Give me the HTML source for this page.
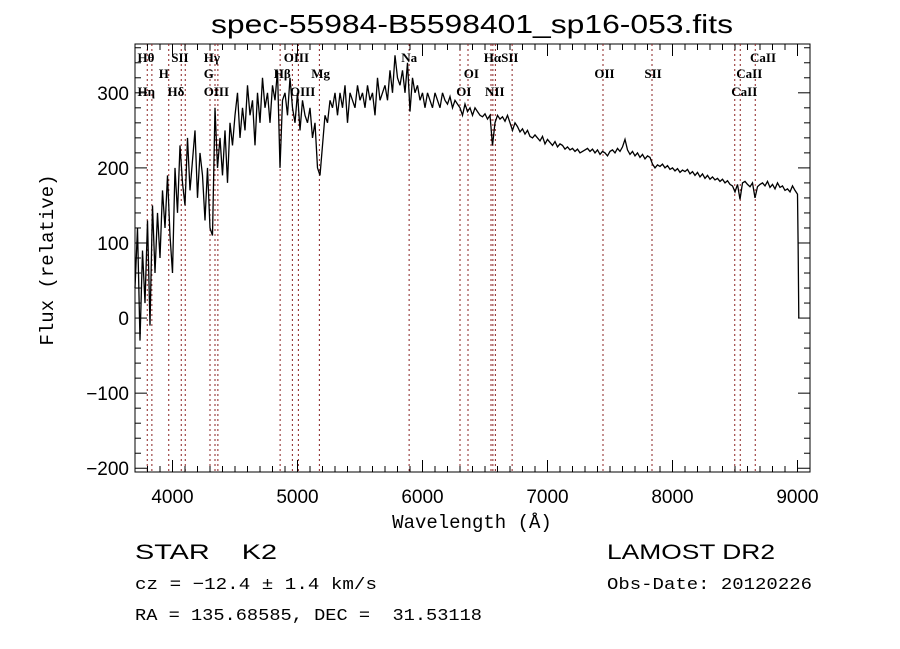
<!DOCTYPE html>
<html><head><meta charset="utf-8"><style>
body{margin:0;background:#fff;}
svg{display:block;font-family:"Liberation Sans",sans-serif;}
</style></head><body>
<svg id="c" width="900" height="649" viewBox="0 0 900 649">
<text x="211" y="33" font-size="26" textLength="522" lengthAdjust="spacingAndGlyphs">spec-55984-B5598401_sp16-053.fits</text>
<rect x="135" y="44" width="675" height="428" fill="none" stroke="#000" stroke-width="1"/>
<text x="472" y="528" font-size="19" font-family="Liberation Mono, monospace" text-anchor="middle">Wavelength (Å)</text>
<text transform="translate(53,260) rotate(-90)" font-size="19" font-family="Liberation Mono, monospace" text-anchor="middle">Flux (relative)</text>
<text x="135" y="559" font-size="21" textLength="142" lengthAdjust="spacingAndGlyphs">STAR&#160;&#160;&#160;&#160;K2</text>
<text x="607" y="559" font-size="21" textLength="168" lengthAdjust="spacingAndGlyphs">LAMOST DR2</text>
<text x="135" y="589" font-size="17" font-family="Liberation Mono, monospace" textLength="242" lengthAdjust="spacingAndGlyphs">cz = −12.4 ± 1.4 km/s</text>
<text x="607" y="589" font-size="17" font-family="Liberation Mono, monospace" textLength="205" lengthAdjust="spacingAndGlyphs">Obs-Date: 20120226</text>
<text x="135" y="620" font-size="17" font-family="Liberation Mono, monospace" textLength="347" lengthAdjust="spacingAndGlyphs">RA = 135.68585, DEC =&#160;&#160;31.53118</text>
<g id="lines"></g><g id="spec"></g><g id="axes"></g><g id="labels"></g>
</svg>
<script>
const xTicks=[4000,5000,6000,7000,8000,9000];
const yTicks=[-200,-100,0,100,200,300];
const lineWl=[3798,3835,3970,4070,4102,4300,4340,4363,4861,4959,5007,5175,5893,6300,6364,6548,6563,6583,6717,7444,7836,8498,8542,8662];
const labelText=["Hθ","SII","Hγ","OIII","Na","HαSII","CaII","H","G","Hβ","Mg","OI","OII","SII","CaII","Hη","Hδ","OIII","OIII","OI","NII","CaII"];
const labelWl=[3720,3990,4250,4890,5830,6490,8620,3890,4250,4810,5110,6330,7375,7775,8510,3720,3960,4250,4940,6270,6500,8470];
const labelRow=[0,0,0,0,0,0,0,1,1,1,1,1,1,1,1,2,2,2,2,2,2,2];
const fluxStart=3700, fluxStep=20;
const flux=[40,120,-30,90,20,130,-10,150,60,140,80,
170,120,190,110,60,200,140,230,180,150,
240,170,210,250,160,220,190,130,200,120,
110,280,200,240,190,250,180,260,230,270,
300,240,280,250,310,270,290,230,300,260,
320,280,300,260,310,290,330,200,290,300,
270,320,280,260,300,250,290,270,260,280,
240,260,200,190,230,270,260,290,280,300,
270,300,280,310,260,300,290,280,310,290,
300,280,310,290,300,270,320,290,300,310,
290,330,300,350,320,310,330,300,340,275,
320,300,310,290,300,280,300,290,280,300,
290,280,300,290,285,295,280,290,285,280,
270,285,275,280,270,280,275,270,268,272,
265,270,230,260,270,265,268,262,270,260,
250,260,255,248,252,245,250,242,240,244,
240,236,242,232,238,234,230,235,228,232,
230,225,228,224,226,222,225,220,222,224,
226,222,225,220,224,218,222,220,216,222,
224,220,226,222,228,238,224,218,222,216,
220,214,218,212,216,214,205,200,204,202,
205,200,203,198,200,196,199,194,197,195,
198,192,195,190,194,188,192,186,190,185,
188,184,186,182,185,180,183,178,176,168,
178,158,180,182,178,175,180,160,175,178,
180,176,182,174,178,172,180,174,176,170,
172,168,176,170,165];
const tailWl=[9005,9010];
const tailFlux=[100,0];

const X0=135,X1=810,Y0=44,Y1=472,WMIN=3700,WMAX=9100,FMIN=-205,FMAX=365;
const sx=w=>X0+(w-WMIN)/(WMAX-WMIN)*(X1-X0);
const sy=f=>Y1-(f-FMIN)/(FMAX-FMIN)*(Y1-Y0);
const NS="http://www.w3.org/2000/svg";
function mk(tag,parent,attrs){const e=document.createElementNS(NS,tag);for(const k in attrs)e.setAttribute(k,attrs[k]);parent.appendChild(e);return e;}
const gl=document.getElementById('lines'),gs=document.getElementById('spec'),ga=document.getElementById('axes'),gt=document.getElementById('labels');
lineWl.forEach(w=>{const l=mk('line',gl,{x1:sx(w),x2:sx(w),y1:Y0,y2:Y1,stroke:'#8b2020','stroke-width':1,'stroke-dasharray':'2,3'});

});
let pts=flux.map((f,i)=>sx(fluxStart+i*fluxStep).toFixed(1)+','+sy(f).toFixed(1));
tailWl.forEach((w,i)=>pts.push(sx(w).toFixed(1)+','+sy(tailFlux[i]).toFixed(1)));
const pl=mk('polyline',gs,{points:pts.join(' '),fill:'none',stroke:'#000','stroke-width':1.3});


for(let w=3700;w<=9100;w+=100){const major=xTicks.includes(w);const h=major?12:6;
 const t1=mk('line',ga,{x1:sx(w),x2:sx(w),y1:Y1,y2:Y1-h,stroke:'#000'});
 
 
 const t2=mk('line',ga,{x1:sx(w),x2:sx(w),y1:Y0,y2:Y0+h,stroke:'#000'});
 
 }
xTicks.forEach(w=>{const t=mk('text',ga,{x:sx(w),y:Y1+31,'font-size':19,'text-anchor':'middle'});t.textContent=w;
 
 });
for(let f=-200;f<=360;f+=20){const major=yTicks.includes(f);const h=major?12:6;
 const t1=mk('line',ga,{x1:X0,x2:X0+h,y1:sy(f),y2:sy(f),stroke:'#000'});
 
 
 const t2=mk('line',ga,{x1:X1,x2:X1-h,y1:sy(f),y2:sy(f),stroke:'#000'});
 
 }
yTicks.forEach(f=>{const t=mk('text',ga,{x:X0-6,y:sy(f)+7,'font-size':19,'text-anchor':'end'});t.textContent=f===-100||f===-200?'−'+Math.abs(f):f;
 
 });
const rowY=[62,78,96];
labelText.forEach((s,i)=>{const t=mk('text',gt,{x:sx(labelWl[i]),y:rowY[labelRow[i]],'font-size':13,'font-family':'Liberation Serif, serif','font-weight':'bold'});t.textContent=s;
 
 });
</script>
</body></html>
